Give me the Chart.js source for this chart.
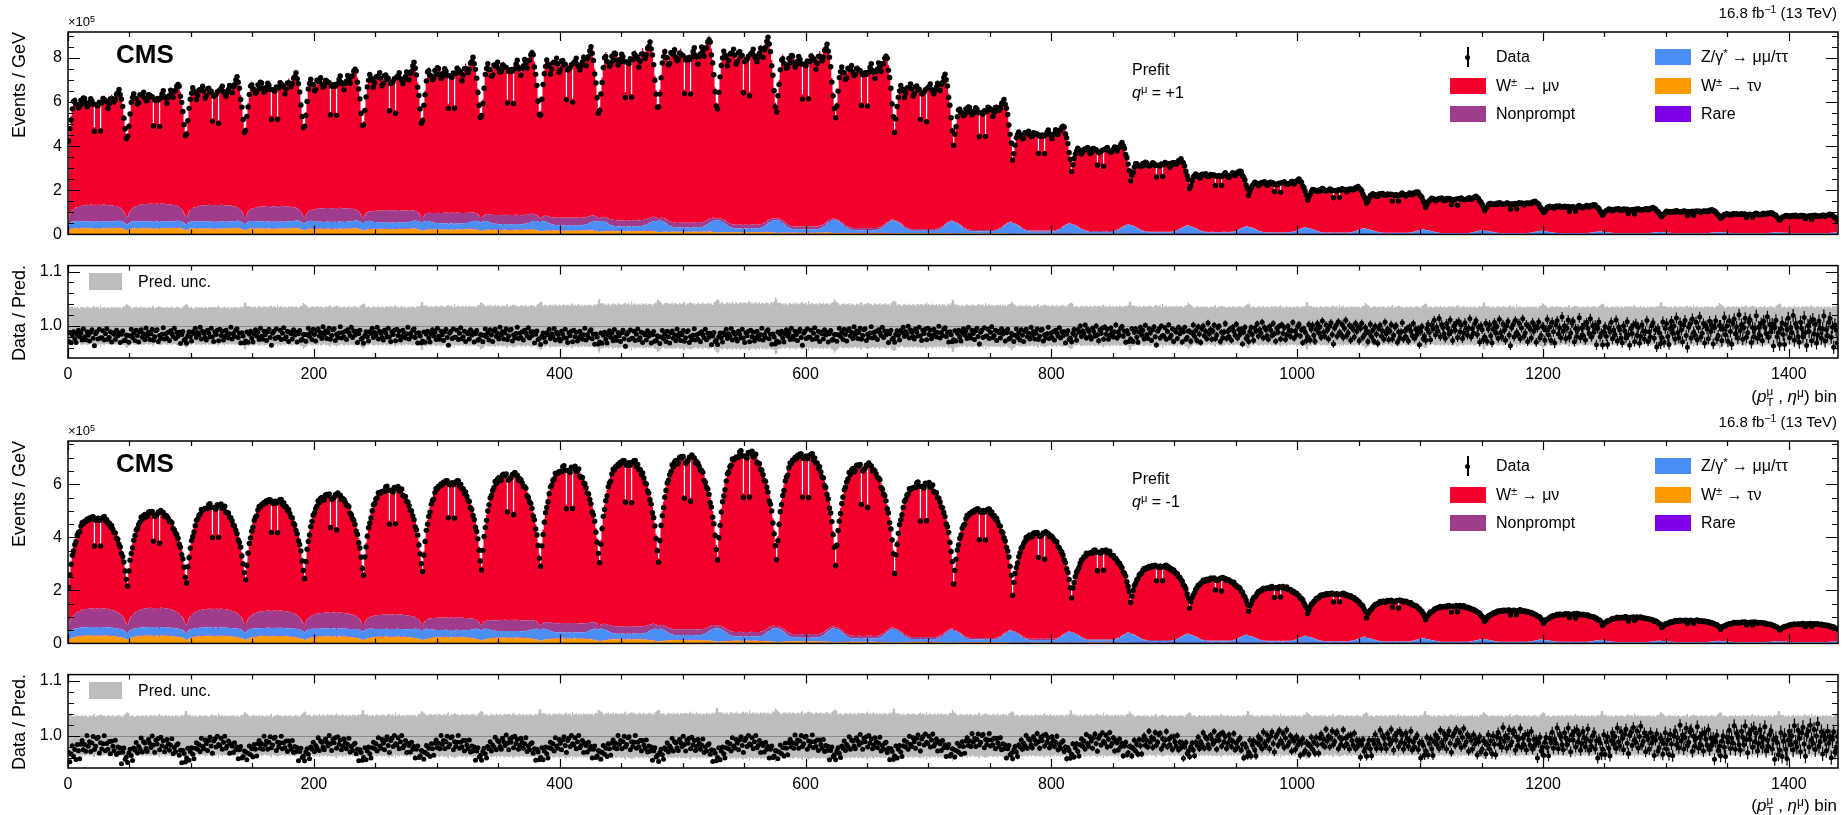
<!DOCTYPE html>
<html>
<head>
<meta charset="utf-8">
<script src="https://cdn.jsdelivr.net/npm/chart.js@4.4.0/dist/chart.umd.min.js"></script>
<style>
  html, body { margin: 0; padding: 0; background: #fff; }
  #page { position: relative; width: 1843px; height: 815px; overflow: hidden;
          font-family: 'Liberation Sans', Arial, Helvetica, sans-serif; color: #000; }
  canvas { position: absolute; left: 0; }
  .t { position: absolute; white-space: nowrap; line-height: 1; z-index: 5; }
  .t sup { font-size: 0.7em; vertical-align: 0.45em; line-height: 0; }
  .ss { display: inline-block; vertical-align: -0.35em; font-size: 0.68em; line-height: 0.95; }
  .ss span { display: block; }
  .box { position: absolute; z-index: 5; }
</style>
</head>
<body>
<div id="page">
  <canvas id="mainP" width="1843" height="250" style="top:0px"></canvas>
  <canvas id="ratioP" width="1843" height="160" style="top:250px"></canvas>
  <canvas id="mainM" width="1843" height="250" style="top:409px"></canvas>
  <canvas id="ratioM" width="1843" height="156" style="top:659px"></canvas>
</div>
<script>
// bins: 30 pT blocks x 48 eta bins = 1440 (pT, eta) bins
const nEta = 48;
const nBlock = 30;
const xTicks = [0, 200, 400, 600, 800, 1000, 1200, 1400];
const yTicksPlus = [0, 2, 4, 6, 8];
const yTicksMinus = [0, 2, 4, 6];
const ratioTicks = [1.0, 1.1];

// q = +1 : level of each pT block (x10^5 events/GeV) and shape inside a block
const peakPlus = [6.1, 6.35, 6.6, 6.8, 7.0, 7.2, 7.45, 7.7, 7.85, 8.1,
  8.25, 8.25, 8.0, 7.55, 6.7, 5.7, 4.62, 3.88, 3.22, 2.72,
  2.35, 2.04, 1.83, 1.62, 1.41, 1.27, 1.14, 1.05, 0.93, 0.85];
const depthPlus = [1, 1, 1, 1, 1, 1, 1, 1, 1, 1, 1, 1, 1, 1, 1, 0.95, 0.9, 0.85, 0.8, 0.8,
  0.78, 0.76, 0.75, 0.75, 0.75, 0.75, 0.75, 0.75, 0.75, 0.75];
const etaPlus = [0.70, 0.78, 0.86, 0.93, 0.98, 1.00, 0.98, 0.96, 0.93, 0.95,
  0.99, 0.98, 1.00, 1.01, 0.98, 0.94, 0.96, 0.99, 1.00, 0.98,
  0.97, 0.78, 0.96, 0.95, 0.96, 0.97, 0.77, 0.98, 1.00, 1.01,
  0.99, 0.97, 0.94, 0.97, 1.00, 1.02, 1.00, 0.98, 1.01, 1.03,
  1.05, 1.07, 1.05, 1.00, 0.94, 0.87, 0.79, 0.71];
const npPlus = [0.75, 0.8, 0.75, 0.7, 0.62, 0.55, 0.48, 0.42, 0.35, 0.28,
  0.22, 0.17, 0.13, 0.1, 0.08, 0.06, 0.05, 0.04, 0.03, 0.03,
  0.02, 0.02, 0.02, 0.01, 0.01, 0.01, 0.01, 0.01, 0.01, 0.01];
const zBasePlus = [0.3, 0.3, 0.3, 0.3, 0.3, 0.28, 0.26, 0.24, 0.22, 0.2,
  0.18, 0.16, 0.14, 0.12, 0.1, 0.09, 0.08, 0.07, 0.06, 0.05,
  0.05, 0.04, 0.04, 0.03, 0.03, 0.03, 0.02, 0.02, 0.02, 0.02];
const zEdgePlus = [0.1, 0.1, 0.12, 0.14, 0.16, 0.2, 0.24, 0.28, 0.32, 0.38,
  0.44, 0.48, 0.52, 0.52, 0.5, 0.47, 0.42, 0.38, 0.34, 0.3,
  0.27, 0.23, 0.19, 0.16, 0.13, 0.1, 0.08, 0.07, 0.06, 0.05];
const wtauPlus = [0.28, 0.28, 0.27, 0.27, 0.26, 0.25, 0.23, 0.21, 0.18, 0.15,
  0.12, 0.1, 0.08, 0.06, 0.05, 0.04, 0.03, 0.03, 0.02, 0.02,
  0.02, 0.02, 0.01, 0.01, 0.01, 0.01, 0.01, 0.01, 0.01, 0.01];
const rarePlus = [0.02, 0.02, 0.02, 0.02, 0.02, 0.02, 0.02, 0.02, 0.02, 0.02,
  0.015, 0.015, 0.015, 0.015, 0.015, 0.015, 0.015, 0.015, 0.015, 0.015,
  0.01, 0.01, 0.01, 0.01, 0.01, 0.01, 0.01, 0.01, 0.01, 0.01];
const ratioPlus = [0.981, 0.982, 0.983, 0.982, 0.984, 0.983, 0.982, 0.983, 0.981, 0.980,
  0.980, 0.981, 0.982, 0.984, 0.985, 0.984, 0.983, 0.986, 0.985, 0.986,
  0.988, 0.990, 0.986, 0.992, 0.990, 0.991, 0.986, 0.990, 0.992, 0.990];
const rEtaPlus = [-0.006, -0.004, -0.002, 0, 0.001, 0.001, 0.002, 0.002, 0.002, 0.002,
  0.002, 0.001, 0.001, 0.001, 0, 0, 0.001, 0.002, 0.002, 0.002,
  0.001, -0.003, 0.001, 0.002, 0.002, 0.001, -0.003, 0.001, 0.002, 0.002,
  0.002, 0.001, 0, 0, 0.001, 0.001, 0.002, 0.002, 0.002, 0.002,
  0.002, 0.001, 0.001, 0, -0.001, -0.002, -0.004, -0.006];
const spreadPlus = [0.009, 0.009, 0.009, 0.009, 0.009, 0.009, 0.009, 0.009, 0.009, 0.009,
  0.009, 0.009, 0.009, 0.009, 0.009, 0.009, 0.009, 0.01, 0.011, 0.012,
  0.012, 0.013, 0.013, 0.014, 0.015, 0.016, 0.016, 0.017, 0.018, 0.019];
const errPlus = [0.002, 0.002, 0.002, 0.002, 0.002, 0.002, 0.002, 0.002, 0.002, 0.002,
  0.002, 0.002, 0.003, 0.003, 0.003, 0.004, 0.004, 0.005, 0.005, 0.006,
  0.006, 0.007, 0.007, 0.008, 0.008, 0.009, 0.009, 0.010, 0.011, 0.012];
const uncPlus = [0.034, 0.034, 0.034, 0.035, 0.035, 0.035, 0.036, 0.037, 0.038, 0.040,
  0.041, 0.042, 0.041, 0.040, 0.039, 0.038, 0.037, 0.036, 0.036, 0.035,
  0.035, 0.035, 0.035, 0.035, 0.035, 0.035, 0.035, 0.035, 0.035, 0.035];

// q = -1
const peakMinus = [4.7, 4.9, 5.15, 5.35, 5.55, 5.8, 6.05, 6.3, 6.55, 6.8,
  6.95, 7.1, 7.05, 6.65, 5.95, 5.0, 4.12, 3.45, 2.9, 2.43,
  2.1, 1.86, 1.6, 1.4, 1.24, 1.1, 0.98, 0.86, 0.79, 0.73];
const depthMinus = [1, 1, 1, 1, 1, 1, 1, 1, 1, 1, 1, 1, 1, 1, 1, 1, 1, 0.9, 0.85, 0.8,
  0.75, 0.72, 0.7, 0.65, 0.6, 0.55, 0.55, 0.55, 0.55, 0.55];
const etaMinus = [0.45, 0.56, 0.64, 0.70, 0.75, 0.79, 0.83, 0.86, 0.89, 0.91,
  0.93, 0.95, 0.96, 0.97, 0.98, 0.97, 0.98, 0.99, 1.00, 1.00,
  0.99, 0.78, 0.98, 0.97, 0.98, 0.99, 0.77, 1.00, 1.00, 0.99,
  0.98, 0.98, 0.96, 0.95, 0.94, 0.93, 0.91, 0.89, 0.87, 0.85,
  0.83, 0.80, 0.77, 0.74, 0.70, 0.65, 0.59, 0.52];
const npMinus = [0.7, 0.72, 0.7, 0.65, 0.6, 0.55, 0.48, 0.42, 0.35, 0.28,
  0.22, 0.17, 0.13, 0.1, 0.08, 0.06, 0.05, 0.04, 0.03, 0.03,
  0.02, 0.02, 0.02, 0.01, 0.01, 0.01, 0.01, 0.01, 0.01, 0.01];
const zBaseMinus = [0.3, 0.3, 0.3, 0.29, 0.28, 0.27, 0.25, 0.23, 0.21, 0.19,
  0.17, 0.15, 0.13, 0.11, 0.1, 0.09, 0.08, 0.07, 0.06, 0.05,
  0.05, 0.04, 0.04, 0.03, 0.03, 0.03, 0.02, 0.02, 0.02, 0.02];
const zEdgeMinus = [0.1, 0.1, 0.12, 0.14, 0.16, 0.2, 0.24, 0.28, 0.32, 0.36,
  0.4, 0.44, 0.46, 0.46, 0.44, 0.41, 0.38, 0.34, 0.3, 0.27,
  0.23, 0.2, 0.16, 0.13, 0.11, 0.09, 0.07, 0.06, 0.05, 0.04];
const wtauMinus = [0.3, 0.3, 0.29, 0.28, 0.27, 0.26, 0.24, 0.22, 0.19, 0.16,
  0.13, 0.1, 0.08, 0.06, 0.05, 0.04, 0.03, 0.03, 0.02, 0.02,
  0.02, 0.02, 0.01, 0.01, 0.01, 0.01, 0.01, 0.01, 0.01, 0.01];
const rareMinus = rarePlus;
const ratioMinus = [0.973, 0.974, 0.975, 0.975, 0.976, 0.976, 0.976, 0.977, 0.976, 0.976,
  0.975, 0.976, 0.977, 0.978, 0.979, 0.980, 0.980, 0.981, 0.982, 0.983,
  0.984, 0.985, 0.985, 0.986, 0.986, 0.987, 0.988, 0.987, 0.988, 0.988];
const rEtaMinus = [-0.012, -0.010, -0.009, -0.007, -0.005, -0.003, -0.002, 0, 0.002, 0.003,
  0.004, 0.005, 0.006, 0.007, 0.008, 0.008, 0.009, 0.010, 0.010, 0.011,
  0.011, 0.009, 0.011, 0.012, 0.012, 0.011, 0.009, 0.011, 0.011, 0.010,
  0.010, 0.009, 0.008, 0.008, 0.007, 0.006, 0.005, 0.004, 0.003, 0.002,
  0, -0.002, -0.003, -0.005, -0.007, -0.009, -0.010, -0.012];
const spreadMinus = [0.012, 0.011, 0.01, 0.01, 0.01, 0.01, 0.01, 0.01, 0.01, 0.01,
  0.01, 0.01, 0.01, 0.01, 0.01, 0.01, 0.01, 0.011, 0.012, 0.012,
  0.013, 0.013, 0.014, 0.014, 0.015, 0.016, 0.016, 0.017, 0.018, 0.019];
const errMinus = [0.002, 0.002, 0.002, 0.002, 0.002, 0.002, 0.002, 0.002, 0.002, 0.002,
  0.002, 0.002, 0.003, 0.003, 0.004, 0.004, 0.005, 0.005, 0.006, 0.006,
  0.007, 0.007, 0.008, 0.008, 0.009, 0.010, 0.010, 0.011, 0.012, 0.013];
const uncMinus = [0.036, 0.036, 0.036, 0.036, 0.037, 0.037, 0.038, 0.038, 0.039, 0.040,
  0.040, 0.041, 0.041, 0.040, 0.039, 0.038, 0.037, 0.037, 0.036, 0.036,
  0.036, 0.036, 0.036, 0.036, 0.036, 0.036, 0.036, 0.036, 0.036, 0.036];

// shapes shared by both charges (per eta bin)
const domeEta = [0.45, 0.56, 0.64, 0.70, 0.75, 0.79, 0.83, 0.86, 0.89, 0.91,
  0.93, 0.95, 0.96, 0.97, 0.98, 0.985, 0.99, 0.995, 1, 1,
  1, 1, 1, 1, 1, 1, 1, 1, 1, 1,
  0.995, 0.99, 0.985, 0.98, 0.97, 0.96, 0.95, 0.93, 0.91, 0.89,
  0.86, 0.83, 0.79, 0.75, 0.70, 0.64, 0.56, 0.48];
const edgeEta = [1, 0.95, 0.88, 0.8, 0.7, 0.6, 0.5, 0.4, 0.31, 0.23, 0.16, 0.1, 0.06, 0.03, 0.01,
  0, 0, 0, 0, 0, 0, 0, 0, 0, 0, 0, 0, 0, 0, 0, 0, 0, 0,
  0.01, 0.03, 0.06, 0.1, 0.16, 0.23, 0.31, 0.4, 0.5, 0.6, 0.7, 0.8, 0.88, 0.95, 1];
const uncEta = [1.2, 1.08, 1.02, 1, 1, 1, 1, 1, 1, 1, 1, 1, 1, 1, 1, 1, 1, 1, 1, 1, 1,
  1.1, 1, 1, 1, 1, 1.1,
  1, 1, 1, 1, 1, 1, 1, 1, 1, 1, 1, 1, 1, 1, 1, 1, 1, 1, 1.02, 1.08, 1.2];
// bin-to-bin scatter of the data, read from a few blocks of the ratio panels
const jitA = [-0.4, 1.2, -1.1, 0.3, 0.8, -0.6, -1.5, 0.2, 1.0, -0.3,
  0.5, -0.9, 1.4, -0.2, -0.7, 0.9, 0.1, -1.2, 0.6, 1.1,
  -0.5, -1.6, 0.4, 0.7, -0.8, 1.3, 0.0, -0.4, 0.9, -1.0,
  0.3, 1.5, -0.6, -0.2, 0.8, -1.3, 0.5, 0.2, -0.9, 1.0,
  -0.1, 0.6, -1.4, 0.4, 1.2, -0.7, -0.3, 0.9];
const jitB = [0.7, -0.9, 0.2, 1.3, -0.5, 0.4, -1.2, 0.9, -0.2, -1.5,
  0.6, 1.1, -0.4, 0.3, -0.8, 1.6, -0.1, 0.5, -1.0, 0.2,
  1.2, -0.6, -0.3, 0.8, 1.0, -1.3, 0.4, -0.7, 0.1, 1.4,
  -0.9, 0.3, -0.5, 0.7, -1.1, 0.9, 0.2, -0.4, 1.3, -0.8,
  0.5, -0.2, 0.6, -1.6, 0.3, 1.1, -0.5, 0.0];
const jitC = [-1.0, 0.4, 0.9, -0.3, -1.3, 0.6, 0.1, 1.2, -0.7, 0.3,
  -0.2, 1.5, -0.9, 0.7, 0.4, -0.5, -1.1, 0.8, 0.2, -0.6,
  1.3, 0.0, -1.4, 0.5, -0.1, 0.9, -0.8, 1.1, -0.3, 0.6,
  -1.2, -0.4, 1.0, 0.3, -0.7, 0.2, 1.4, -1.0, 0.1, -0.5,
  0.8, 1.2, -0.6, 0.4, -1.5, 0.7, 0.3, -0.9];

const COL = { wmu: '#f2002b', np: '#9f3c8c', z: '#4b8ef6', wtau: '#ff9b00', rare: '#7f00e6', unc: '#bdbdbd' };

Chart.defaults.font.family = "'Liberation Sans', Arial, Helvetica, sans-serif";
Chart.defaults.color = '#000';

// put the per-block numbers together into the 1440 bins
function buildSeries(q, jitShift) {
  const jit = [jitA, jitB, jitC];
  const s = { wtau: [], rare: [], z: [], np: [], wmu: [], data: [], ratio: [], err: [], lo: [], hi: [] };
  for (let b = 0; b < nBlock; b++) {
    for (let e = 0; e < nEta; e++) {
      const x = b * nEta + e + 0.5;
      const d = q.depth[b];
      const sh = 1 - d * (1 - q.eta[e]);
      const dome = 1 - d * (1 - domeEta[e]);
      const total = q.peak[b] * sh / q.ratio[b];
      const wtau = q.wtau[b] * sh;
      const rare = q.rare[b] * sh;
      const z = q.zBase[b] * dome + q.zEdge[b] * edgeEta[e];
      const np = q.np[b] * dome;
      const wmu = Math.max(total - wtau - rare - z - np, 0);
      const pred = wtau + rare + z + np + wmu;
      const r = q.ratio[b] + d * q.rEta[e] + q.spread[b] * jit[(b + jitShift) % 3][e];
      const u = q.unc[b] * uncEta[e] * (1 + 0.04 * jit[(b + jitShift + 1) % 3][e]);
      s.wtau.push({ x, y: wtau });
      s.rare.push({ x, y: rare });
      s.z.push({ x, y: z });
      s.np.push({ x, y: np });
      s.wmu.push({ x, y: wmu });
      s.data.push({ x, y: pred * r });
      s.ratio.push({ x, y: r });
      s.err.push(q.err[b]);
      s.lo.push({ x, y: 1 - u });
      s.hi.push({ x, y: 1 + u });
    }
  }
  return s;
}

const plus = buildSeries({ peak: peakPlus, depth: depthPlus, eta: etaPlus, np: npPlus, zBase: zBasePlus,
  zEdge: zEdgePlus, wtau: wtauPlus, rare: rarePlus, ratio: ratioPlus, rEta: rEtaPlus,
  spread: spreadPlus, err: errPlus, unc: uncPlus }, 0);
const minus = buildSeries({ peak: peakMinus, depth: depthMinus, eta: etaMinus, np: npMinus, zBase: zBaseMinus,
  zEdge: zEdgeMinus, wtau: wtauMinus, rare: rareMinus, ratio: ratioMinus, rEta: rEtaMinus,
  spread: spreadMinus, err: errMinus, unc: uncMinus }, 1);

// frame with inward ticks on all four sides (ROOT style)
const framePlugin = {
  id: 'frame',
  afterDraw(chart, args, o) {
    const { ctx, chartArea: a } = chart;
    const x = chart.scales.x, y = chart.scales.y;
    ctx.save();
    ctx.strokeStyle = '#000';
    ctx.lineWidth = 1.2;
    ctx.beginPath();
    for (let i = 0; i * 50 <= 1440; i++) {
      const v = i * 50;
      const px = Math.round(x.getPixelForValue(v)) + 0.5;
      const len = v % 200 === 0 ? 9 : 5;
      ctx.moveTo(px, a.bottom); ctx.lineTo(px, a.bottom - len);
      ctx.moveTo(px, a.top); ctx.lineTo(px, a.top + len);
    }
    for (let i = 0; o.yFrom + i * o.yStep <= y.max + 1e-9; i++) {
      const v = o.yFrom + i * o.yStep;
      if (v < y.min - 1e-9) continue;
      const py = Math.round(y.getPixelForValue(v)) + 0.5;
      const major = o.yMajor.some(m => Math.abs(m - v) < 1e-6);
      const len = major ? 12 : 6;
      ctx.moveTo(a.left, py); ctx.lineTo(a.left + len, py);
      ctx.moveTo(a.right, py); ctx.lineTo(a.right - len, py);
    }
    ctx.stroke();
    ctx.lineWidth = 1.5;
    ctx.strokeRect(a.left, a.top, a.right - a.left, a.bottom - a.top);
    ctx.restore();
  }
};

// ratio panels: line at 1 and error bars of the data points
const ratioExtras = {};
const ratioPlugin = {
  id: 'ratioDecor',
  beforeDatasetDraw(chart, args) {
    if (args.index !== 2) return;
    const ex = ratioExtras[chart.canvas.id];
    const { ctx, chartArea: a } = chart;
    const x = chart.scales.x, y = chart.scales.y;
    ctx.save();
    ctx.beginPath();
    ctx.rect(a.left, a.top, a.right - a.left, a.bottom - a.top);
    ctx.clip();
    ctx.strokeStyle = '#8a8a8a';
    ctx.lineWidth = 1;
    const p1 = Math.round(y.getPixelForValue(1)) + 0.5;
    ctx.beginPath(); ctx.moveTo(a.left, p1); ctx.lineTo(a.right, p1); ctx.stroke();
    ctx.strokeStyle = '#000';
    ctx.lineWidth = 1.2;
    ctx.beginPath();
    ex.points.forEach((p, i) => {
      const px = x.getPixelForValue(p.x);
      ctx.moveTo(px, y.getPixelForValue(p.y - ex.err[i]));
      ctx.lineTo(px, y.getPixelForValue(p.y + ex.err[i]));
    });
    ctx.stroke();
    ctx.restore();
  }
};

function layer(label, data, color, fill) {
  return { label, data, backgroundColor: color, borderWidth: 0, pointRadius: 0,
    stepped: 'middle', fill, stack: 'mc' };
}

function drawMain(id, s, yMax, yTicks) {
  new Chart(document.getElementById(id), {
    type: 'line',
    data: {
      datasets: [
        layer('W± → τν', s.wtau, COL.wtau, 'origin'),
        layer('Rare', s.rare, COL.rare, '-1'),
        layer('Z/γ* → μμ/ττ', s.z, COL.z, '-1'),
        layer('Nonprompt', s.np, COL.np, '-1'),
        layer('W± → μν', s.wmu, COL.wmu, '-1'),
        { label: 'Data', data: s.data, showLine: false, pointRadius: 2.7, pointBorderWidth: 0,
          pointBackgroundColor: '#000', stack: 'data', order: -1 }
      ]
    },
    options: {
      responsive: false, animation: false, events: [],
      layout: { padding: { top: 32, right: 5, bottom: 4, left: 0 } },
      scales: {
        x: { type: 'linear', min: 0, max: 1440, display: false },
        y: {
          stacked: true, min: 0, max: yMax,
          afterFit: sc => { sc.width = 68; },
          afterBuildTicks: sc => { sc.ticks = yTicks.map(v => ({ value: v })); },
          grid: { display: false, drawTicks: false }, border: { display: false },
          ticks: { padding: 6, font: { size: 16 }, color: '#000', callback: v => String(v) }
        }
      },
      plugins: {
        legend: { display: false }, tooltip: { enabled: false },
        frame: { yFrom: 0, yStep: 0.5, yMajor: yTicks }
      }
    },
    plugins: [framePlugin]
  });
}

function drawRatio(id, s, padTop, xHeight) {
  ratioExtras[id] = { points: s.ratio, err: s.err };
  new Chart(document.getElementById(id), {
    type: 'line',
    data: {
      datasets: [
        { label: 'lo', data: s.lo, borderWidth: 0, pointRadius: 0, stepped: 'middle', fill: false },
        { label: 'Pred. unc.', data: s.hi, borderWidth: 0, pointRadius: 0, stepped: 'middle', fill: '-1',
          backgroundColor: COL.unc },
        { label: 'Data', data: s.ratio, showLine: false, pointRadius: 2.5, pointBorderWidth: 0,
          pointBackgroundColor: '#000', order: -1 }
      ]
    },
    options: {
      responsive: false, animation: false, events: [],
      layout: { padding: { top: padTop, right: 5, bottom: 0, left: 0 } },
      scales: {
        x: {
          type: 'linear', min: 0, max: 1440,
          afterFit: sc => { sc.height = xHeight; },
          afterBuildTicks: sc => { sc.ticks = xTicks.map(v => ({ value: v })); },
          grid: { display: false, drawTicks: false }, border: { display: false },
          ticks: { padding: 7, font: { size: 16 }, color: '#000', maxRotation: 0, autoSkip: false,
            callback: v => String(v) }
        },
        y: {
          min: 0.941, max: 1.111,
          afterFit: sc => { sc.width = 68; },
          afterBuildTicks: sc => { sc.ticks = ratioTicks.map(v => ({ value: v })); },
          grid: { display: false, drawTicks: false }, border: { display: false },
          ticks: { padding: 6, font: { size: 16 }, color: '#000', callback: v => v.toFixed(1) }
        }
      },
      plugins: {
        legend: { display: false }, tooltip: { enabled: false },
        frame: { yFrom: 0.94, yStep: 0.02, yMajor: ratioTicks }
      }
    },
    plugins: [framePlugin, ratioPlugin]
  });
}

drawMain('mainP', plus, 9.17, yTicksPlus);
drawRatio('ratioP', plus, 6, 52);
drawMain('mainM', minus, 7.63, yTicksMinus);
drawRatio('ratioM', minus, 7, 47);

// text and legends
const page = document.getElementById('page');
function put(html, css) {
  const d = document.createElement('div');
  d.className = 't';
  d.innerHTML = html;
  Object.assign(d.style, css);
  page.appendChild(d);
  return d;
}
function box(color, css) {
  const d = document.createElement('div');
  d.className = 'box';
  Object.assign(d.style, { background: color }, css);
  page.appendChild(d);
}

const legendItems = [
  { label: 'Data', color: null, col: 0, row: 0 },
  { label: 'W<sup>±</sup> → μν', color: COL.wmu, col: 0, row: 1 },
  { label: 'Nonprompt', color: COL.np, col: 0, row: 2 },
  { label: 'Z/γ<sup>*</sup> → μμ/ττ', color: COL.z, col: 1, row: 0 },
  { label: 'W<sup>±</sup> → τν', color: COL.wtau, col: 1, row: 1 },
  { label: 'Rare', color: COL.rare, col: 1, row: 2 }
];
const legRowY = [57, 86, 114];
const legBoxX = [1450, 1655];

function annotate(dy, charge) {
  put('16.8 fb<sup>−1</sup> (13 TeV)', { right: '6px', top: (dy + 5) + 'px', fontSize: '15px' });
  put('×10<sup>5</sup>', { left: '68px', top: (dy + 15) + 'px', fontSize: '13px' });
  put('CMS', { left: '116px', top: (dy + 41) + 'px', fontSize: '26px', fontWeight: 'bold' });
  put('Prefit', { left: '1132px', top: (dy + 62) + 'px', fontSize: '16px' });
  put('<i>q</i><sup>μ</sup> = ' + charge, { left: '1132px', top: (dy + 85) + 'px', fontSize: '16px' });
  put('Events / GeV', { left: '10px', top: (dy + 32) + 'px', fontSize: '18px',
    writingMode: 'vertical-rl', transform: 'rotate(180deg)' });
  put('Data / Pred.', { left: '10px', top: (dy + 265) + 'px', fontSize: '18px',
    writingMode: 'vertical-rl', transform: 'rotate(180deg)' });
  put('(<i>p</i><span class="ss"><span>μ</span><span>T</span></span> , <i>η</i><sup>μ</sup>) bin',
    { right: '6px', top: (dy + 386) + 'px', fontSize: '17px' });
  legendItems.forEach(it => {
    const cy = dy + legRowY[it.row];
    const bx = legBoxX[it.col];
    if (it.color) {
      box(it.color, { left: bx + 'px', top: (cy - 8) + 'px', width: '36px', height: '16px' });
    } else {
      box('#000', { left: (bx + 17) + 'px', top: (cy - 10) + 'px', width: '1.5px', height: '20px' });
      box('#000', { left: (bx + 15) + 'px', top: (cy - 2.5) + 'px', width: '5px', height: '5px', borderRadius: '50%' });
    }
    put(it.label, { left: (bx + 46) + 'px', top: (cy - 8) + 'px', fontSize: '16px' });
  });
  box(COL.unc, { left: '89px', top: (dy + 273) + 'px', width: '33px', height: '17px' });
  put('Pred. unc.', { left: '138px', top: (dy + 274) + 'px', fontSize: '16px' });
}
annotate(0, '+1');
annotate(409, '-1');
</script>
</body>
</html>
